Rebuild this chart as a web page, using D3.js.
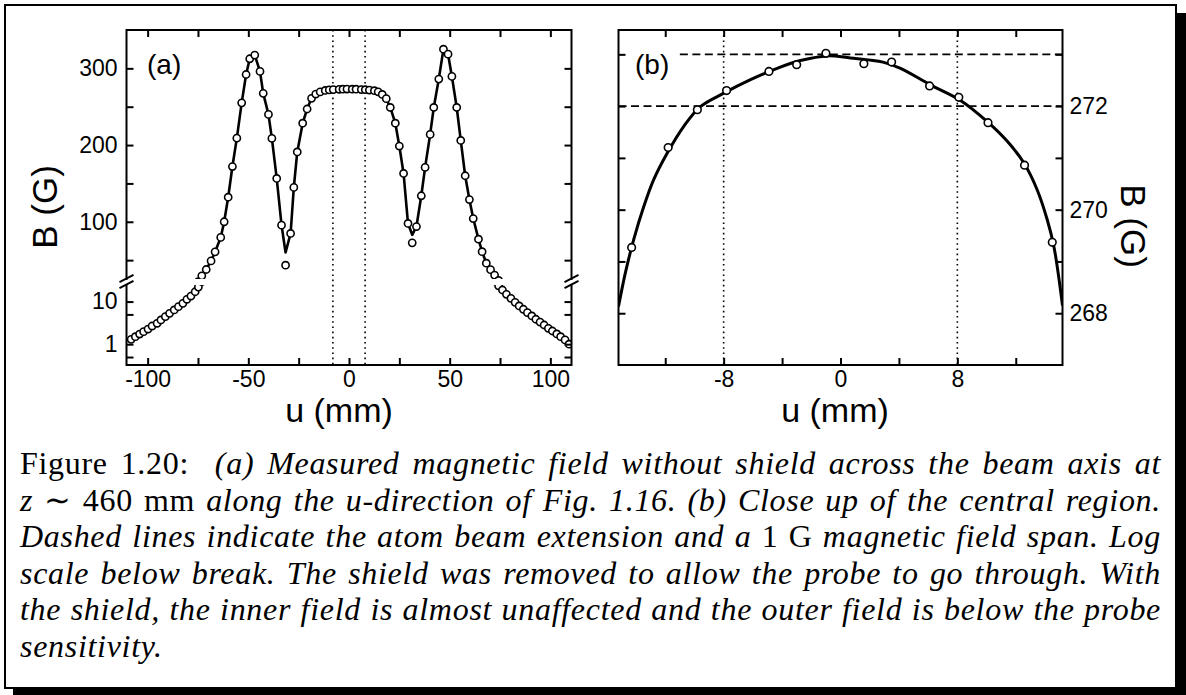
<!DOCTYPE html>
<html><head><meta charset="utf-8">
<script src="https://cdn.jsdelivr.net/npm/d3@7"></script>
<style>
html,body{margin:0;padding:0;background:#fff;}
svg{display:block;}
.ax text{font-family:"Liberation Sans",Arial,sans-serif;font-size:23px;fill:#000;}
.ax line{stroke:#000;stroke-width:2;}
</style></head>
<body>
<svg id="fig" width="1186" height="695"></svg>
<script>
// ---------- Panel (a) data: measured points ----------
const uA = [-108.2,-106.1,-104.0,-102.0,-99.8,-97.8,-95.3,-93.4,-91.2,-89.1,-86.8,-84.7,-82.5,-80.5,-78.5,-76.4,-74.8,
  -73.1,-70.9,-68.5,-66.5,-63.7,-62.0,-60.0,-57.9,-55.7,-53.3,-51.1,-49.3,-46.8,-44.2,-42.6,-40.0,-38.3,-35.9,-33.5,-31.5,-29.0,-27.4,-25.7,-23.0,-20.8,-18.6,-16.5,
  -14.3,-11.8,-9.8,-7.8,-4.9,-3.0,-1.0,1.6,3.5,6.1,8.1,10.1,12.6,14.5,
  16.5,18.5,20.5,23.0,25.0,27.1,29.3,31.4,33.5,35.9,37.8,40.3,42.1,44.6,46.9,49.2,51.1,53.5,55.5,57.7,59.8,61.7,64.3,66.1,68.2,70.3,72.3,74.3,
  76.2,78.2,80.4,82.5,84.5,86.6,88.6,90.8,92.8,94.9,96.9,99.0,101.0,103.2,105.1,107.3,109.3];
const bA = [1.30,1.50,1.73,1.97,2.27,2.67,3.09,3.70,4.43,5.3,6.36,7.6,9.1,11.3,13.5,17,21.9,
  29.5,37.8,49,60.8,79.6,100,132,172,209,255,292,312.5,317.3,296,267.4,240,208.7,156.5,95.6,43.4,84.8,144.8,191,228.5,247,260.9,266.5,
  269.3,271.2,271.9,272.3,272.7,272.8,273.0,272.8,272.85,272.4,272.2,271.7,270.9,269.4,
  266,260.5,249,228.5,198.7,163,97.8,72.5,93.8,133.9,170.9,213.9,249,286,325,318.5,289.5,249,206,160,129,104.2,77.3,61,46,37.6,30.5,23.5,
  18.7,14.8,11.9,9.6,7.9,6.6,5.5,4.6,3.85,3.3,2.82,2.36,2.04,1.74,1.5,1.26,1.0];

// ---------- Panel (a) guide line through the data ----------
const lineAU = [-73.1,-70.9,-68.5,-66.5,-63.7,-62.0,-60.0,-57.9,-55.7,-53.3,-51.1,-49.3,-46.8,-44.2,-42.6,-40.0,-38.3,-35.9,-33.5,-31.5,-29.0,-27.4,-25.7,-23.0,-20.8,-18.6,-16.5,
  -14.3,-11.8,-9.8,-7.8,-4.9,-3.0,-1.0,1.6,3.5,6.1,8.1,10.1,12.6,14.5,
  16.5,18.5,20.5,23.0,25.0,27.1,29.3,31.4,33.5,35.9,37.8,40.3,42.1,44.6,46.9,49.2,51.1,53.5,55.5,57.7,59.8,61.7,64.3,66.1,68.2,70.3,72.3];
const lineAB = [29.5,37.8,49,60.8,79.6,100,132,172,209,255,292,312.5,317.3,296,267.4,240,208.7,156.5,95.6,60,84.8,144.8,191,228.5,247,260.9,266.5,
  269.3,271.2,271.9,272.3,272.7,272.8,273.0,272.8,272.85,272.4,272.2,271.7,270.9,269.4,
  266,260.5,249,228.5,198.7,163,97.8,83,93.8,133.9,170.9,213.9,249,286,325,318.5,289.5,249,206,160,129,104.2,77.3,61,46,37.6,30.5];

// ---------- Panel (b) data: close-up points ----------
const uB = [-14.3,-11.8,-9.8,-7.8,-4.9,-3.0,-1.0,1.6,3.5,6.1,8.1,10.1,12.6,14.5];
const bB = [269.27,271.2,271.93,272.3,272.67,272.8,273.02,272.82,272.85,272.39,272.17,271.68,270.86,269.37];

// ---------- Panel (b) fitted curve ----------
const curveBU = [-15.2,-14.73,-14.16,-13.47,-12.79,-11.87,-10.73,-9.59,-7.99,-6.16,-4.34,-2.74,-0.91,0.68,2.9,4.11,6.16,8.22,10.05,11.42,12.56,13.47,14.16,14.61,15.2];
const curveBB = [268.13,268.78,269.42,270.06,270.58,271.09,271.61,271.99,272.25,272.51,272.73,272.88,272.97,272.93,272.85,272.73,272.41,272.11,271.70,271.32,270.90,270.38,269.80,269.29,268.15];

// ---------- ticks ----------
const aXTicks = [-100,-50,0,50,100];
const aXMinor = [-75,-25,25,75];
const aYLinTicks = [100,200,300];
const aYLinMinor = [50,150,250];
const aYLogTicks = [1,10];
const aYLogMinor = [0.5,5];
const bXTicks = [-8,0,8];
const bXMinor = [-12,-4,4,12];
const bYTicks = [268,270,272];
const bYMinor = [269,271,273];
const beamEdges = [-8,8];
const fieldSpan = [272,273];

const captionLines = [
  [["Figure 1.20:  ","n"],["(a) Measured magnetic field without shield across the beam axis at","i"]],
  [["z","i"],[" ∼ 460 mm ","n"],["along the u-direction of Fig. 1.16. (b) Close up of the central region.","i"]],
  [["Dashed lines indicate the atom beam extension and a ","i"],["1 G","n"],[" magnetic field span. Log","i"]],
  [["scale below break. The shield was removed to allow the probe to go through. With","i"]],
  [["the shield, the inner field is almost unaffected and the outer field is below the probe","i"]],
  [["sensitivity.","i"]]
];

const svg = d3.select("#fig");
const sans = '"Liberation Sans",Arial,sans-serif';

// ---------- outer shadow box ----------
svg.append("rect").attr("x",13).attr("y",13).attr("width",1173).attr("height",682).attr("fill","#000");
svg.append("rect").attr("x",5).attr("y",5).attr("width",1171).attr("height",683).attr("fill","#fff").attr("stroke","#000").attr("stroke-width",2);

// ================= PANEL (a) =================
const aL = 126.5, aR = 571.5, aT = 30, aB = 365, brkTop = 279, brkBot = 285;
const xA = d3.scaleLinear().domain([-110.5,110.5]).range([aL,aR]);
const yAlin = d3.scaleLinear().domain([25.4,350]).range([brkTop,aT]);
const yAlog = d3.scaleLog().domain([0.325,24.5]).range([aB,brkBot]);

const defs = svg.append("defs");
defs.append("clipPath").attr("id","clipUp").append("rect").attr("x",aL).attr("y",aT).attr("width",aR-aL).attr("height",brkTop-aT);
defs.append("clipPath").attr("id","clipLo").append("rect").attr("x",aL).attr("y",brkBot).attr("width",aR-aL).attr("height",aB-brkBot);
const bL = 618.5, bR = 1062.5, bT = 30, bBot = 365;
defs.append("clipPath").attr("id","clipB").append("rect").attr("x",bL).attr("y",bT).attr("width",bR-bL).attr("height",bBot-bT);

// dotted beam-extension lines
svg.append("g").selectAll("line").data(beamEdges).join("line")
  .attr("x1",d=>xA(d)).attr("x2",d=>xA(d)).attr("y1",aT).attr("y2",aB)
  .attr("stroke","#000").attr("stroke-width",1.6).attr("stroke-dasharray","1.6,3.6");

const ptsA = uA.map((u,i)=>({u,b:bA[i]}));
const lnA = lineAU.map((u,i)=>({u,b:lineAB[i]}));

// upper (linear) segment
const gUp = svg.append("g").attr("clip-path","url(#clipUp)");
gUp.append("path").datum(lnA)
  .attr("d",d3.line().x(d=>xA(d.u)).y(d=>yAlin(d.b)))
  .attr("fill","none").attr("stroke","#000").attr("stroke-width",2.6).attr("stroke-linejoin","round");
gUp.selectAll("circle").data(ptsA).join("circle")
  .attr("cx",d=>xA(d.u)).attr("cy",d=>yAlin(d.b)).attr("r",3.6)
  .attr("fill","#fff").attr("stroke","#000").attr("stroke-width",1.6);
// lower (log) segment
const gLo = svg.append("g").attr("clip-path","url(#clipLo)");
gLo.selectAll("circle").data(ptsA).join("circle")
  .attr("cx",d=>xA(d.u)).attr("cy",d=>yAlog(d.b)).attr("r",3.6)
  .attr("fill","#fff").attr("stroke","#000").attr("stroke-width",1.6);

// axes (a)
function fmtOnly(list){ return d => list.includes(d) ? String(d) : ""; }
const allAX = aXTicks.concat(aXMinor);
const xPad = 6;
let g;
g = svg.append("g").attr("class","ax").attr("transform",`translate(0,${aB})`)
  .call(d3.axisBottom(xA).tickValues(allAX).tickSize(-7).tickPadding(xPad).tickFormat(fmtOnly(aXTicks)));
g.select(".domain").remove();
g = svg.append("g").attr("class","ax").attr("transform",`translate(0,${aT})`)
  .call(d3.axisTop(xA).tickValues(allAX).tickSize(-7).tickFormat(""));
g.select(".domain").remove();
g = svg.append("g").attr("class","ax").attr("transform",`translate(${aL},0)`)
  .call(d3.axisLeft(yAlin).tickValues(aYLinTicks.concat(aYLinMinor)).tickSize(-7).tickPadding(9).tickFormat(fmtOnly(aYLinTicks)));
g.select(".domain").remove();
g = svg.append("g").attr("class","ax").attr("transform",`translate(${aL},0)`)
  .call(d3.axisLeft(yAlog).tickValues(aYLogTicks.concat(aYLogMinor)).tickSize(-7).tickPadding(9).tickFormat(fmtOnly(aYLogTicks)));
g.select(".domain").remove();
g = svg.append("g").attr("class","ax").attr("transform",`translate(${aR},0)`)
  .call(d3.axisRight(yAlin).tickValues(aYLinTicks.concat(aYLinMinor)).tickSize(-7).tickFormat(""));
g.select(".domain").remove();
g = svg.append("g").attr("class","ax").attr("transform",`translate(${aR},0)`)
  .call(d3.axisRight(yAlog).tickValues(aYLogTicks.concat(aYLogMinor)).tickSize(-7).tickFormat(""));
g.select(".domain").remove();

// frame (a) with break
const fr = svg.append("g").attr("stroke","#000").attr("stroke-width",2).attr("fill","none");
fr.append("path").attr("d",
  `M${aL},${brkTop}V${aT}H${aR}V${brkTop}` +
  `M${aL},${brkBot}V${aB}H${aR}V${brkBot}`).attr("stroke-linecap","square");
[aL,aR].forEach(x=>{
  [brkTop-0.5,brkBot-0.5].forEach(y=>{
    fr.append("line").attr("x1",x-7).attr("y1",y+3.6).attr("x2",x+7).attr("y2",y-3.6).attr("stroke-width",2);
  });
});

// labels (a)
svg.append("text").attr("x",147).attr("y",74).attr("font-family",sans).attr("font-size",28).text("(a)");
svg.append("text").attr("x",339).attr("y",422).attr("text-anchor","middle").attr("font-family",sans).attr("font-size",34).text("u (mm)");
svg.append("text").attr("transform","translate(57,207) rotate(-90)").attr("text-anchor","middle")
  .attr("font-family",sans).attr("font-size",35).text("B (G)");

// ================= PANEL (b) =================
const xB = d3.scaleLinear().domain([-15.2,15.2]).range([bL,bR]);
const yB = d3.scaleLinear().domain([267,273.47]).range([bBot,bT]);

// dotted verticals
svg.append("g").selectAll("line").data(beamEdges).join("line")
  .attr("x1",d=>xB(d)).attr("x2",d=>xB(d)).attr("y1",bT).attr("y2",bBot)
  .attr("stroke","#000").attr("stroke-width",1.6).attr("stroke-dasharray","1.6,3.6");
// dashed horizontals (1 G span)
svg.append("g").selectAll("line").data(fieldSpan).join("line")
  .attr("x1",d=> d===fieldSpan[1] ? xB(-11) : xB(-15.2)).attr("x2",xB(15.2))
  .attr("y1",d=>yB(d)).attr("y2",d=>yB(d))
  .attr("stroke","#000").attr("stroke-width",1.6).attr("stroke-dasharray","8,4.5");

const gB = svg.append("g").attr("clip-path","url(#clipB)");
gB.append("path").datum(curveBU.map((u,i)=>({u,b:curveBB[i]})))
  .attr("d",d3.line().x(d=>xB(d.u)).y(d=>yB(d.b)).curve(d3.curveCatmullRom))
  .attr("fill","none").attr("stroke","#000").attr("stroke-width",3);
gB.selectAll("circle").data(uB.map((u,i)=>({u,b:bB[i]}))).join("circle")
  .attr("cx",d=>xB(d.u)).attr("cy",d=>yB(d.b)).attr("r",3.8)
  .attr("fill","#fff").attr("stroke","#000").attr("stroke-width",1.6);

const allBX = bXTicks.concat(bXMinor);
g = svg.append("g").attr("class","ax").attr("transform",`translate(0,${bBot})`)
  .call(d3.axisBottom(xB).tickValues(allBX).tickSize(-7).tickPadding(xPad).tickFormat(fmtOnly(bXTicks)));
g.select(".domain").remove();
g = svg.append("g").attr("class","ax").attr("transform",`translate(0,${bT})`)
  .call(d3.axisTop(xB).tickValues(allBX).tickSize(-7).tickFormat(""));
g.select(".domain").remove();
g = svg.append("g").attr("class","ax").attr("transform",`translate(${bL},0)`)
  .call(d3.axisLeft(yB).tickValues(bYTicks.concat(bYMinor)).tickSize(-7).tickFormat(""));
g.select(".domain").remove();
g = svg.append("g").attr("class","ax").attr("transform",`translate(${bR},0)`)
  .call(d3.axisRight(yB).tickValues(bYTicks.concat(bYMinor)).tickSize(-7).tickPadding(7).tickFormat(fmtOnly(bYTicks)));
g.select(".domain").remove();

svg.append("rect").attr("x",bL).attr("y",bT).attr("width",bR-bL).attr("height",bBot-bT)
  .attr("fill","none").attr("stroke","#000").attr("stroke-width",2);

svg.append("text").attr("x",635).attr("y",74).attr("font-family",sans).attr("font-size",28).text("(b)");
svg.append("text").attr("x",835).attr("y",422).attr("text-anchor","middle").attr("font-family",sans).attr("font-size",34).text("u (mm)");
svg.append("text").attr("transform","translate(1121,226) rotate(90)").attr("text-anchor","middle")
  .attr("font-family",sans).attr("font-size",35).text("B (G)");

// ================= CAPTION =================
const capL = 20, capR = 1161, base0 = 474, lead = 36.5;
captionLines.forEach((parts,i)=>{
  const t = svg.append("text").attr("x",capL).attr("y",base0+i*lead)
    .attr("font-family",'"Liberation Serif","Times New Roman",serif').attr("font-size",32)
    .attr("letter-spacing",0.7).style("white-space","pre");
  parts.forEach(([s,st])=>{
    t.append("tspan").attr("font-style",st==="i"?"italic":"normal").text(s);
  });
  if(i < captionLines.length-1){
    const full = parts.map(p=>p[0]).join("");
    const nSp = (full.match(/ /g)||[]).length;
    const w = t.node().getComputedTextLength();
    const extra = (capR-capL - w)/nSp;
    t.attr("word-spacing",extra);
  }
});
</script>
</body></html>
